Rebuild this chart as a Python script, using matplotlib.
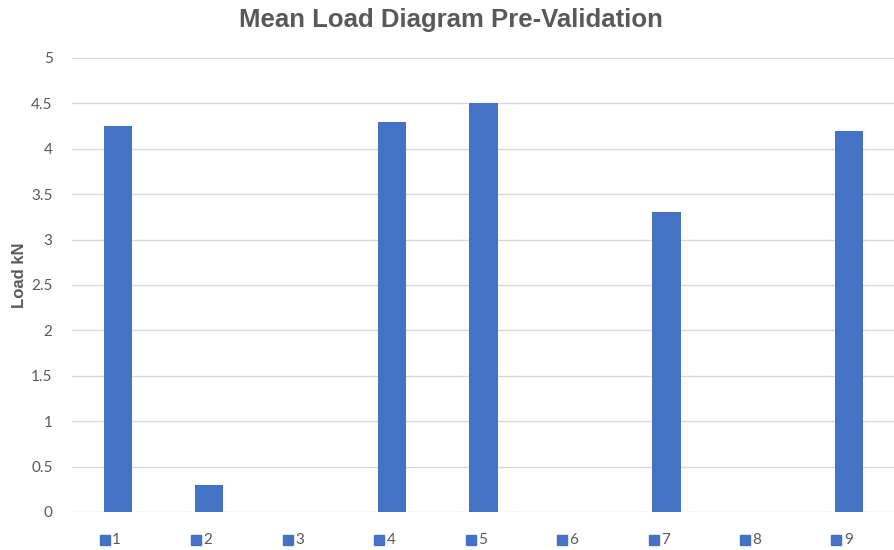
import matplotlib
matplotlib.use("Agg")
import matplotlib.pyplot as plt
import matplotlib.transforms as mtransforms

categories = ["1", "2", "3", "4", "5", "6", "7", "8", "9"]
loads = [4.25, 0.3, 0, 4.3, 4.5, 0, 3.3, 0, 4.2]
y_ticks = [0, 0.5, 1, 1.5, 2, 2.5, 3, 3.5, 4, 4.5, 5]
y_tick_labels = ["0", "0.5", "1", "1.5", "2", "2.5", "3", "3.5", "4", "4.5", "5"]

BAR_COLOR = "#4472C4"
TEXT_COLOR = "#595959"
GRID_COLOR = "#D9D9D9"

fig = plt.figure(figsize=(8.95, 5.5), dpi=100)
ax = fig.add_axes([0.0804, 0.0691, 0.9196, 0.8255])

x = list(range(len(categories)))
ax.bar(x, loads, width=0.31, color=BAR_COLOR, zorder=3)

ax.set_xlim(-0.5, len(categories) - 0.5)
ax.set_ylim(0, 5)
ax.set_yticks(y_ticks)
ax.set_yticklabels(y_tick_labels, family="Lato", fontsize=11, color=TEXT_COLOR)
ax.tick_params(axis="y", length=0, pad=14)
ax.set_xticks([])
ax.grid(axis="y", color=GRID_COLOR, linewidth=1, zorder=0)
for s in ax.spines.values():
    s.set_visible(False)

fig.text(0.022, 0.5, "Load kN", rotation=90, ha="center", va="center",
         family="Liberation Sans", fontweight="bold", fontsize=12, color=TEXT_COLOR)

# legend-style category labels under the bars
trans = mtransforms.blended_transform_factory(ax.transData, ax.transAxes)
for xi, cat in zip(x, categories):
    ax.plot([xi - 0.14], [-0.062], marker="s", markersize=6.5, color=BAR_COLOR,
            transform=trans, clip_on=False, linestyle="none")
    ax.text(xi - 0.06, -0.062, cat, transform=trans, ha="left", va="center",
            family="Lato", fontsize=11, color=TEXT_COLOR)

fig.text(0.504, 0.963, "Mean Load Diagram Pre-Validation", ha="center", va="center",
         family="Liberation Sans", fontweight="bold", fontsize=18.5, color=TEXT_COLOR)

fig.savefig("out.png", dpi=100)
